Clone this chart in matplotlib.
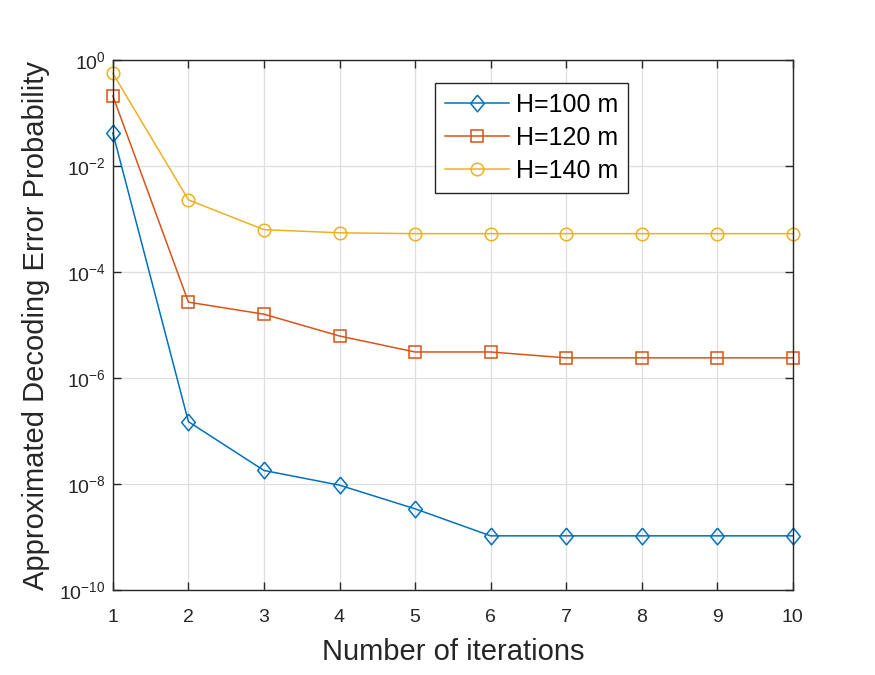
import numpy as np
import matplotlib
matplotlib.use('Agg')
import matplotlib.pyplot as plt
from matplotlib.ticker import FixedLocator, FuncFormatter

plt.rcParams['font.family'] = ['Liberation Sans', 'DejaVu Sans']
plt.rcParams['mathtext.fontset'] = 'custom'
plt.rcParams['mathtext.rm'] = 'Liberation Sans'
plt.rcParams['mathtext.it'] = 'Liberation Sans:italic'
plt.rcParams['mathtext.bf'] = 'Liberation Sans:bold'

iterations = [1, 2, 3, 4, 5, 6, 7, 8, 9, 10]
p_h100 = [4.2e-2, 1.5e-7, 1.8e-8, 9.5e-9, 3.4e-9, 1.05e-9, 1.05e-9, 1.05e-9, 1.05e-9, 1.05e-9]
p_h120 = [2.1e-1, 2.7e-5, 1.6e-5, 6.2e-6, 3.1e-6, 3.1e-6, 2.4e-6, 2.4e-6, 2.4e-6, 2.4e-6]
p_h140 = [5.6e-1, 2.3e-3, 6.3e-4, 5.5e-4, 5.3e-4, 5.3e-4, 5.3e-4, 5.3e-4, 5.3e-4, 5.3e-4]
labels = ['H=100 m', 'H=120 m', 'H=140 m']
y_ticks = [1e-10, 1e-8, 1e-6, 1e-4, 1e-2, 1e0]

# matlab style diamond (wider than matplotlib's thin one)
diamond = [(0, 1), (0.82, 0), (0, -1), (-0.82, 0), (0, 1)]

fig = plt.figure(figsize=(8.75, 6.75), dpi=100)
ax = fig.add_axes([0.129, 0.126, 0.777, 0.785])

ax.semilogy(iterations, p_h100, '-', marker=diamond, color='#0072BD', lw=1.1, ms=12,
            mfc='none', mew=1.1, label=labels[0], clip_on=False)
ax.semilogy(iterations, p_h120, '-s', color='#D95319', lw=1.1, ms=8, mfc='none', mew=1.1,
            label=labels[1], clip_on=False)
ax.semilogy(iterations, p_h140, '-o', color='#EDB120', lw=1.1, ms=9, mfc='none', mew=1.1,
            label=labels[2], clip_on=False)

ax.set_xlim(1, 10)
ax.set_ylim(1e-10, 1e0)
ax.set_xticks(iterations)
ax.yaxis.set_major_locator(FixedLocator(y_ticks))
ax.yaxis.set_minor_locator(FixedLocator([]))
ax.yaxis.set_major_formatter(FuncFormatter(lambda v, p: r'$10^{%d}$' % int(round(np.log10(v)))))
ax.grid(True, color='#dfdfdf', lw=0.9)
ax.set_axisbelow(True)
ax.tick_params(direction='in', top=True, right=True, labelsize=14, colors='#262626',
               length=6, width=1)
ax.tick_params(axis='x', pad=14)
ax.tick_params(axis='y', pad=5)
for sp in ax.spines.values():
    sp.set_color('#262626')
    sp.set_linewidth(1)

ax.set_xlabel('Number of iterations', fontsize=21, color='#262626')
ax.set_ylabel('Approximated Decoding Error Probability', fontsize=21, color='#262626')
ax.xaxis.set_label_coords(0.5, -0.091)
ax.yaxis.set_label_coords(-0.092, 0.5)

leg = ax.legend(loc='upper left', bbox_to_anchor=(0.4735, 0.9566), borderaxespad=0,
                fontsize=18, fancybox=False, edgecolor='#262626', framealpha=1,
                handlelength=2.55, handletextpad=0.3, borderpad=0.4, labelspacing=0.36)
leg.get_frame().set_linewidth(1)

fig.savefig('out.png', dpi=100)
